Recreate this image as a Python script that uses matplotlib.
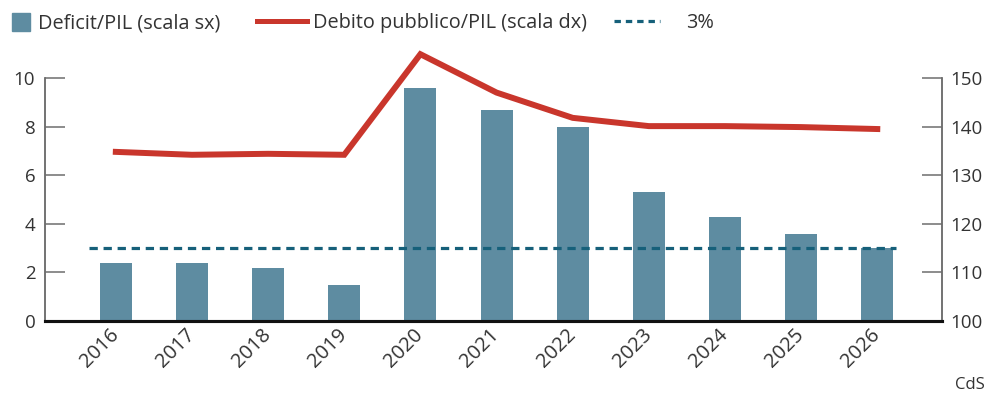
import matplotlib
matplotlib.use("Agg")
import matplotlib.pyplot as plt
from matplotlib.patches import Rectangle
from matplotlib.lines import Line2D
from matplotlib.transforms import ScaledTranslation

plt.rcParams['font.family'] = ['Open Sans', 'DejaVu Sans']

years = ["2016", "2017", "2018", "2019", "2020", "2021", "2022", "2023", "2024", "2025", "2026"]
deficit = [2.4, 2.4, 2.2, 1.5, 9.6, 8.7, 8.0, 5.3, 4.3, 3.6, 3.0]
debito = [134.8, 134.2, 134.4, 134.2, 154.9, 147.0, 141.8, 140.1, 140.1, 139.9, 139.5]
threshold = 3
left_ticks = [0, 2, 4, 6, 8, 10]
right_ticks = [100, 110, 120, 130, 140, 150]
legend_labels = ["Deficit/PIL (scala sx)", "Debito pubblico/PIL (scala dx)", "3%"]

bar_color = "#5e8ca1"
red = "#c9362c"
dash_color = "#16607a"
text_color = "#333333"
grey = "#6e6e6e"
dash_style = (0, (2.6, 1.8))

W, H = 987, 396
fig = plt.figure(figsize=(W / 100, H / 100), dpi=100)
ax = fig.add_axes([45 / W, 1 - 321 / H, (942 - 45) / W, (321 - 78) / H])
ax2 = ax.twinx()

x = list(range(len(years)))
ax.bar(x, deficit, width=0.42, color=bar_color, zorder=2)
ax.hlines(threshold, x[0] - 0.35, x[-1] + 0.24, colors=dash_color, linestyles=dash_style,
          linewidth=2.3, zorder=3)
ax2.plot(x, debito, color=red, linewidth=4.3, solid_joinstyle='miter', clip_on=False, zorder=4)

ax.set_xlim(-0.93, 10.85)
ax.set_ylim(0, 10)
ax2.set_ylim(100, 150)
ax.set_yticks(left_ticks)
ax2.set_yticks(right_ticks)
ax.set_xticks(x)
ax.set_xticklabels(years, rotation=45, ha='right', va='center', rotation_mode='anchor',
                   fontsize=14.5, color=text_color)
off = ScaledTranslation(7 / 100, -3 / 100, fig.dpi_scale_trans)
for lbl in ax.get_xticklabels():
    lbl.set_transform(lbl.get_transform() + off)

for a in (ax, ax2):
    a.spines['top'].set_visible(False)
    a.spines['bottom'].set_color('#111111')
    a.spines['bottom'].set_linewidth(2.2)
    a.spines['left'].set_color(grey)
    a.spines['right'].set_color(grey)
    a.spines['left'].set_linewidth(1.1)
    a.spines['right'].set_linewidth(1.1)
ax.tick_params(axis='y', direction='in', length=14.5, width=1.1, color=grey, pad=7,
               labelsize=13.5, labelcolor=text_color)
ax2.tick_params(axis='y', direction='in', length=14.5, width=1.1, color=grey, pad=6,
                labelsize=13.5, labelcolor=text_color)
ax.tick_params(axis='x', length=0, pad=8)
ax2.patch.set_visible(False)

# manual legend (figure pixel coordinates)
def fx(px):
    return px / W

def fy(py):
    return 1 - py / H

ly = 22
fig.add_artist(Rectangle((fx(12), fy(31)), 18 / W, 18 / H, transform=fig.transFigure,
                         color=bar_color))
fig.text(fx(38), fy(ly + 1), legend_labels[0], ha='left', va='center', fontsize=14.3, color=text_color)
fig.add_artist(Line2D([fx(257), fx(307)], [fy(ly - 1), fy(ly - 1)], transform=fig.transFigure,
                      color=red, linewidth=3.6))
fig.text(fx(313), fy(ly + 1), legend_labels[1], ha='left', va='center', fontsize=14.3, color=text_color)
fig.add_artist(Line2D([fx(614), fx(660)], [fy(ly - 1), fy(ly - 1)], transform=fig.transFigure,
                      color=dash_color, linewidth=2.3, linestyle=(0, (2.0, 1.55))))
fig.text(fx(686), fy(ly + 1), legend_labels[2], ha='left', va='center', fontsize=14.3, color=text_color)

fig.text(fx(985), fy(393), "CdS", ha='right', va='bottom', fontsize=12, color=text_color)

fig.savefig("out.png", dpi=100)
